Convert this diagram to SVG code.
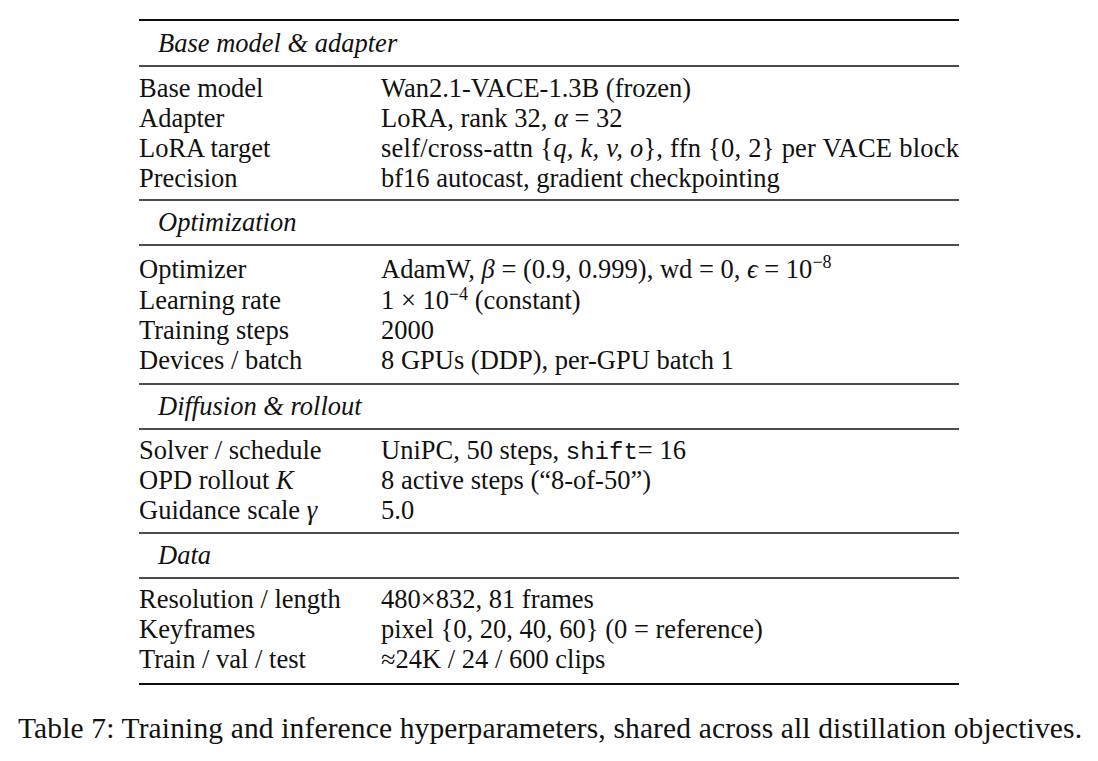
<svg xmlns="http://www.w3.org/2000/svg" width="1098" height="761" viewBox="0 0 1098 761">
<style>
text{font-family:"Liberation Serif","Times New Roman",serif;font-size:26.5px;fill:#111}
.h{font-style:italic}
.m{font-style:italic}
.tt{font-family:"Liberation Mono",monospace;font-size:24px}
line{stroke:#111}
.thick{stroke-width:2.2}
.thin{stroke-width:1.3}
</style>
<rect width="1098" height="761" fill="#fff"/>
<g id="rules">
<line class="thick" x1="139" y1="20" x2="959" y2="20"/>
<line class="thin" x1="139" y1="66" x2="959" y2="66"/>
<line class="thin" x1="139" y1="200" x2="959" y2="200"/>
<line class="thin" x1="139" y1="245" x2="959" y2="245"/>
<line class="thin" x1="139" y1="384" x2="959" y2="384"/>
<line class="thin" x1="139" y1="429" x2="959" y2="429"/>
<line class="thin" x1="139" y1="533" x2="959" y2="533"/>
<line class="thin" x1="139" y1="578" x2="959" y2="578"/>
<line class="thick" x1="139" y1="684" x2="959" y2="684"/>
</g>
<g id="sec1">
<text class="h" x="158" y="52">Base model &amp; adapter</text>
<text x="139" y="97">Base model</text><text x="381" y="97">Wan2.1-VACE-1.3B (frozen)</text>
<text x="139" y="127">Adapter</text><text x="381" y="127">LoRA, rank 32, <tspan class="m">α</tspan> = 32</text>
<text x="139" y="157">LoRA target</text><text x="381" y="157" textLength="578" lengthAdjust="spacing">self/cross-attn {<tspan class="m">q, k, v, o</tspan>}, ffn {0, 2} per VACE block</text>
<text x="139" y="187">Precision</text><text x="381" y="187">bf16 autocast, gradient checkpointing</text>
</g>
<g id="sec2">
<text class="h" x="158" y="231">Optimization</text>
<text x="139" y="278">Optimizer</text><text x="381" y="278">AdamW, <tspan class="m">β</tspan> = (0.9, 0.999), wd = 0, <tspan class="m">ϵ</tspan> = 10<tspan font-size="18" dy="-10">−8</tspan></text>
<text x="139" y="309">Learning rate</text><text x="381" y="309">1 × 10<tspan font-size="18" dy="-9">−4</tspan><tspan dy="9"> (constant)</tspan></text>
<text x="139" y="339">Training steps</text><text x="381" y="339">2000</text>
<text x="139" y="369">Devices / batch</text><text x="381" y="369">8 GPUs (DDP), per-GPU batch 1</text>
</g>
<g id="sec3">
<text class="h" x="158" y="415">Diffusion &amp; rollout</text>
<text x="139" y="459">Solver / schedule</text><text x="381" y="459">UniPC, 50 steps, <tspan class="tt">shift</tspan>= 16</text>
<text x="139" y="489">OPD rollout <tspan class="m">K</tspan></text><text x="381" y="489">8 active steps (“8-of-50”)</text>
<text x="139" y="519">Guidance scale <tspan class="m">γ</tspan></text><text x="381" y="519">5.0</text>
</g>
<g id="sec4">
<text class="h" x="158" y="564">Data</text>
<text x="139" y="608">Resolution / length</text><text x="381" y="608">480×832, 81 frames</text>
<text x="139" y="638">Keyframes</text><text x="381" y="638">pixel {0, 20, 40, 60} (0 = reference)</text>
<text x="139" y="668">Train / val / test</text><text x="381" y="668">≈24K / 24 / 600 clips</text>
</g>
<text x="18" y="738" style="font-size:29.5px" textLength="1064" lengthAdjust="spacing">Table 7: Training and inference hyperparameters, shared across all distillation objectives.</text>
</svg>
